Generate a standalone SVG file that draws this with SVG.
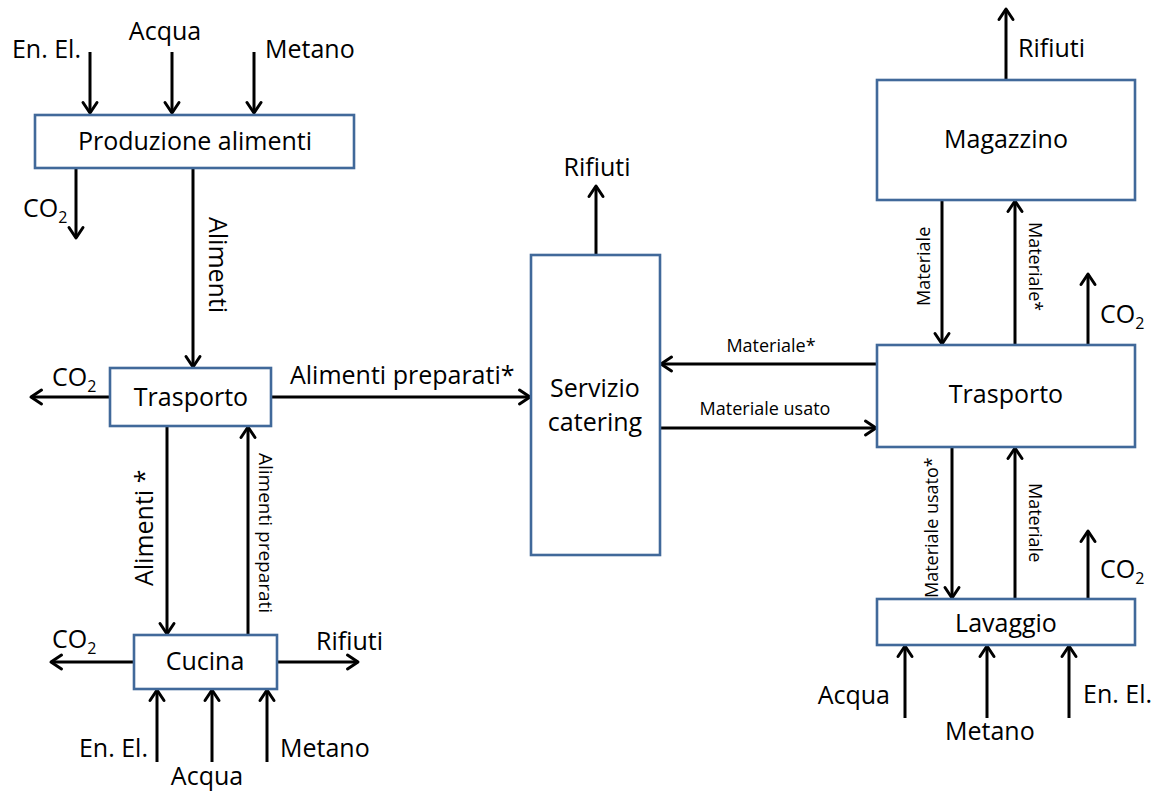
<svg xmlns="http://www.w3.org/2000/svg" width="1160" height="792" viewBox="0 0 1160 792">
  <style>
    .box { fill: #ffffff; stroke: #41699a; stroke-width: 2.6; }
    .flow { fill: none; stroke: #000000; stroke-width: 3; marker-end: url(#head); }
    text { font-family: "Open Sans", "Liberation Sans", sans-serif; fill: #000000; }
    .lg { font-size: 25px; }
    .sm { font-size: 18px; }
    .ctr { text-anchor: middle; }
    .end { text-anchor: end; }
    .sub { font-size: 16px; }
  </style>
  <defs>
    <marker id="head" markerUnits="userSpaceOnUse" markerWidth="26" markerHeight="26" refX="13" refY="13" orient="auto" overflow="visible">
      <path d="M2.5 6 L13 13 L2.5 20" fill="none" stroke="#000000" stroke-width="3" stroke-linecap="round" stroke-linejoin="round"/>
    </marker>
  </defs>
  <rect width="1160" height="792" fill="#ffffff"/>

  <!-- flows -->
  <g id="connectors">
    <!-- inputs / outputs of Produzione alimenti -->
    <line class="flow" x1="90" y1="52" x2="90" y2="113"/>
    <line class="flow" x1="172" y1="52" x2="172" y2="113"/>
    <line class="flow" x1="254" y1="52" x2="254" y2="113"/>
    <line class="flow" x1="76" y1="169" x2="76" y2="238"/>
    <line class="flow" x1="193" y1="169" x2="193" y2="367"/>
    <!-- Trasporto (left) -->
    <line class="flow" x1="110" y1="397" x2="31" y2="397"/>
    <line class="flow" x1="271" y1="397" x2="530" y2="397"/>
    <line class="flow" x1="167" y1="426" x2="167" y2="634"/>
    <line class="flow" x1="248" y1="634" x2="248" y2="427"/>
    <!-- Cucina -->
    <line class="flow" x1="133" y1="662" x2="51" y2="662"/>
    <line class="flow" x1="277" y1="662" x2="358" y2="662"/>
    <line class="flow" x1="157" y1="762" x2="157" y2="690"/>
    <line class="flow" x1="212" y1="762" x2="212" y2="690"/>
    <line class="flow" x1="267" y1="762" x2="267" y2="690"/>
    <!-- Servizio catering -->
    <line class="flow" x1="596" y1="255" x2="596" y2="186"/>
    <line class="flow" x1="877" y1="364" x2="661" y2="364"/>
    <line class="flow" x1="660" y1="428" x2="876" y2="428"/>
    <!-- Magazzino -->
    <line class="flow" x1="1006" y1="80" x2="1006" y2="9"/>
    <line class="flow" x1="942" y1="200" x2="942" y2="344"/>
    <line class="flow" x1="1015" y1="345" x2="1015" y2="201"/>
    <!-- Trasporto (right) -->
    <line class="flow" x1="1088" y1="345" x2="1088" y2="274"/>
    <line class="flow" x1="952" y1="447" x2="952" y2="598"/>
    <line class="flow" x1="1015" y1="599" x2="1015" y2="448"/>
    <!-- Lavaggio -->
    <line class="flow" x1="1088" y1="599" x2="1088" y2="531"/>
    <line class="flow" x1="905" y1="718" x2="905" y2="646"/>
    <line class="flow" x1="987" y1="718" x2="987" y2="646"/>
    <line class="flow" x1="1069" y1="718" x2="1069" y2="646"/>
  </g>

  <!-- flow labels -->
  <g id="flow-labels">
    <text class="lg end" x="81" y="58">En. El.</text>
    <text class="lg ctr" x="165" y="40">Acqua</text>
    <text class="lg" x="265" y="58">Metano</text>
    <text class="lg" x="23" y="217">CO<tspan class="sub" dy="6">2</tspan></text>
    <text class="lg" transform="translate(209,217) rotate(90)">Alimenti</text>

    <text class="lg" x="52" y="386">CO<tspan class="sub" dy="6">2</tspan></text>
    <text class="lg" x="290" y="384">Alimenti preparati*</text>
    <text class="lg" transform="translate(153,586) rotate(-90)">Alimenti *</text>
    <text class="sm" style="font-size:19px" transform="translate(259,453) rotate(90)">Alimenti preparati</text>

    <text class="lg" x="52" y="648">CO<tspan class="sub" dy="6">2</tspan></text>
    <text class="lg" x="316" y="650">Rifiuti</text>
    <text class="lg end" x="148" y="757">En. El.</text>
    <text class="lg ctr" x="207" y="785">Acqua</text>
    <text class="lg" x="280" y="757">Metano</text>

    <text class="lg ctr" x="597" y="176">Rifiuti</text>
    <text class="sm ctr" x="771" y="352">Materiale*</text>
    <text class="sm ctr" x="765" y="415">Materiale usato</text>

    <text class="lg" x="1018" y="57">Rifiuti</text>
    <text class="sm" transform="translate(930,306) rotate(-90)">Materiale</text>
    <text class="sm" transform="translate(1029,222) rotate(90)">Materiale*</text>
    <text class="lg" x="1100" y="323">CO<tspan class="sub" dy="6">2</tspan></text>

    <text class="sm" transform="translate(938,598) rotate(-90)">Materiale usato*</text>
    <text class="sm" transform="translate(1029,483) rotate(90)">Materiale</text>
    <text class="lg" x="1100" y="578">CO<tspan class="sub" dy="6">2</tspan></text>

    <text class="lg end" x="890" y="704">Acqua</text>
    <text class="lg" x="945" y="740">Metano</text>
    <text class="lg" x="1083" y="703">En. El.</text>
  </g>

  <!-- process blocks -->
  <g id="produzione">
    <rect class="box" x="35" y="115" width="319" height="53"/>
    <text class="lg ctr" x="195" y="150">Produzione alimenti</text>
  </g>
  <g id="trasporto-alimenti">
    <rect class="box" x="110" y="368" width="161" height="58"/>
    <text class="lg ctr" x="191" y="406">Trasporto</text>
  </g>
  <g id="cucina">
    <rect class="box" x="134" y="635" width="143" height="54"/>
    <text class="lg ctr" x="205" y="670">Cucina</text>
  </g>
  <g id="servizio-catering">
    <rect class="box" x="531" y="255" width="129" height="300"/>
    <text class="lg ctr" x="595" y="397">Servizio</text>
    <text class="lg ctr" x="595" y="431">catering</text>
  </g>
  <g id="magazzino">
    <rect class="box" x="877" y="80" width="258" height="120"/>
    <text class="lg ctr" x="1006" y="148">Magazzino</text>
  </g>
  <g id="trasporto-materiale">
    <rect class="box" x="877" y="345" width="258" height="102"/>
    <text class="lg ctr" x="1006" y="403">Trasporto</text>
  </g>
  <g id="lavaggio">
    <rect class="box" x="877" y="599" width="258" height="46"/>
    <text class="lg ctr" x="1006" y="632">Lavaggio</text>
  </g>
</svg>
